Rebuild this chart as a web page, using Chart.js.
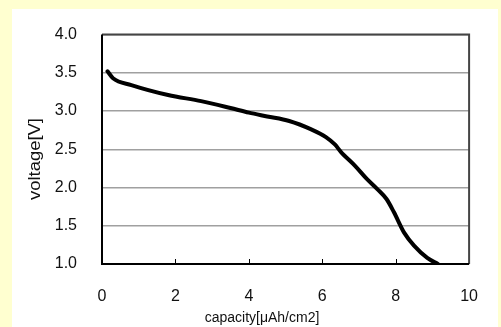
<!DOCTYPE html>
<html>
<head>
<meta charset="utf-8">
<script src="https://cdn.jsdelivr.net/npm/chart.js@4"></script>
<style>
html,body{margin:0;padding:0;background:#ffffd0;}
#c{display:block;}
</style>
</head>
<body>
<canvas id="c" width="501" height="327"></canvas>
<script>
const capacity = [0.15, 0.3, 0.8, 1.8, 2.7, 3.5, 4.0, 4.5, 5.1, 5.7, 6.1, 6.35, 6.5, 6.9, 7.2, 7.5, 7.75, 7.95, 8.23, 8.5, 8.86, 9.15];
const voltage  = [3.52, 3.43, 3.34, 3.21, 3.13, 3.04, 2.98, 2.93, 2.87, 2.76, 2.66, 2.56, 2.47, 2.28, 2.12, 1.98, 1.85, 1.68, 1.41, 1.24, 1.08, 1.0];
const xTicks = [0, 2, 4, 6, 8, 10];
const yTicks = [1.0, 1.5, 2.0, 2.5, 3.0, 3.5, 4.0];
const xTitle = 'capacity[μAh/cm2]';
const yTitle = 'voltage[V]';

const points = capacity.map((x, i) => ({x: x, y: voltage[i]}));
const FONT = '"Liberation Sans", Arial, sans-serif';

const decor = {
  id: 'decor',
  beforeDraw(chart) {
    const ctx = chart.ctx;
    ctx.save();
    ctx.fillStyle = '#ffffd0';
    ctx.fillRect(0, 0, chart.width, chart.height);
    ctx.fillStyle = '#ffffff';
    ctx.fillRect(12, 9, 486, 318);
    ctx.restore();
  },
  afterDatasetsDraw(chart) {
    const ctx = chart.ctx;
    const a = chart.chartArea;
    const xs = chart.scales.x;
    ctx.save();
    ctx.strokeStyle = '#444444';
    ctx.lineWidth = 2;
    ctx.beginPath();
    ctx.moveTo(a.left, a.top);
    ctx.lineTo(a.right, a.top);
    ctx.lineTo(a.right, a.bottom);
    ctx.stroke();
    ctx.strokeStyle = '#000000';
    ctx.beginPath();
    ctx.moveTo(a.left, a.top);
    ctx.lineTo(a.left, a.bottom);
    ctx.lineTo(a.right, a.bottom);
    ctx.stroke();
    ctx.lineWidth = 1;
    ctx.beginPath();
    xTicks.slice(1, -1).forEach(v => {
      const px = Math.round(xs.getPixelForValue(v)) + 0.5;
      ctx.moveTo(px, a.bottom);
      ctx.lineTo(px, a.bottom - 5);
    });
    ctx.stroke();
    ctx.fillStyle = '#111111';
    ctx.textAlign = 'center';
    ctx.textBaseline = 'alphabetic';
    ctx.save();
    ctx.font = '14px ' + FONT;
    ctx.translate(262, 322);
    ctx.fillText(xTitle, 0, 0);
    ctx.restore();
    ctx.save();
    ctx.font = '16px ' + FONT;
    ctx.translate(39.5, 159);
    ctx.rotate(-Math.PI / 2);
    ctx.scale(1.15, 1);
    ctx.fillText(yTitle, 0, 0);
    ctx.restore();
    ctx.restore();
  }
};

new Chart(document.getElementById('c'), {
  type: 'scatter',
  data: {
    datasets: [{
      data: points,
      showLine: true,
      borderColor: '#000000',
      borderWidth: 4,
      borderCapStyle: 'round',
      borderJoinStyle: 'round',
      pointRadius: 0,
      cubicInterpolationMode: 'monotone',
      fill: false
    }]
  },
  options: {
    responsive: false,
    animation: false,
    layout: {padding: {left: 0, top: 31, right: 29, bottom: 0}},
    plugins: {legend: {display: false}, tooltip: {enabled: false}},
    scales: {
      x: {
        type: 'linear',
        min: 0, max: 10,
        afterBuildTicks(s) { s.ticks = xTicks.map(v => ({value: v})); },
        afterFit(s) { s.height = 63; },
        border: {display: false},
        grid: {display: false, drawTicks: false},
        ticks: {
          padding: 23,
          color: '#111111',
          font: {family: FONT, size: 16},
          maxRotation: 0,
          callback: v => String(v)
        }
      },
      y: {
        type: 'linear',
        min: 1, max: 4,
        afterBuildTicks(s) { s.ticks = yTicks.map(v => ({value: v})); },
        afterFit(s) { s.width = 102; },
        border: {display: false},
        grid: {color: '#a0a0a0', lineWidth: 1.5, drawTicks: false},
        ticks: {
          padding: 25,
          color: '#111111',
          font: {family: FONT, size: 16},
          callback: v => Number(v).toFixed(1)
        }
      }
    }
  },
  plugins: [decor]
});
</script>
</body>
</html>
